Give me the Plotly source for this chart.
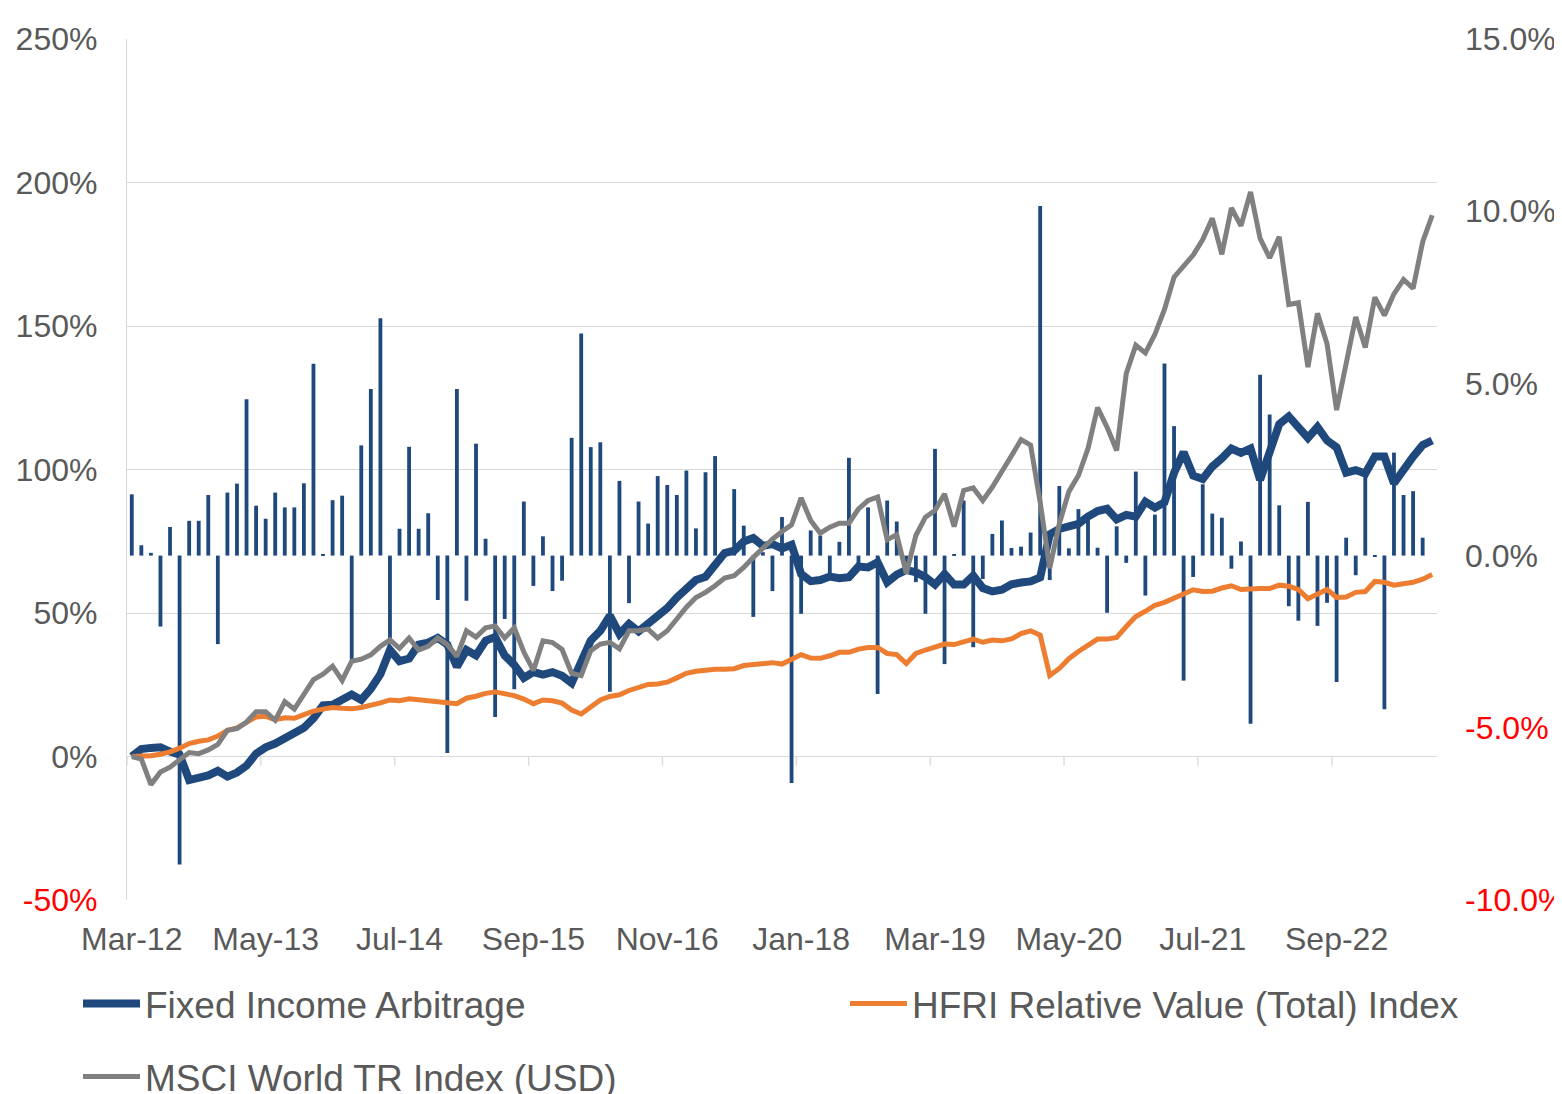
import pandas as pd
import plotly.graph_objects as go

# ---------------- data ----------------
months = pd.date_range("2012-03-01", periods=137, freq="MS").strftime("%b-%y").tolist()
tick_labels = months[::14]

# monthly return of Fixed Income Arbitrage (right axis, %)
fia_monthly = [1.78, 0.30, 0.08, -2.06, 0.83, -8.97, 1.01, 1.01, 1.76, -2.57,
               1.83, 2.09, 4.54, 1.45, 1.07, 1.83, 1.40, 1.40, 2.10, 5.57,
               0.02, 1.61, 1.74, -3.02, 3.20, 4.84, 6.89, -2.49, 0.78, 3.16,
               0.78, 1.23, -1.29, -5.73, 4.84, -1.31, 3.25, 0.49, -4.69, -1.84,
               -3.88, 1.57, -0.88, 0.56, -1.03, -0.73, 3.42, 6.45, 3.15, 3.29,
               -3.95, 2.17, -1.38, 1.57, 0.93, 2.31, 2.05, 1.76, 2.47, 0.79,
               2.42, 2.89, 0.10, 1.93, 0.87, -1.78, 0.10, -1.03, 1.12, -6.60,
               -1.69, 0.73, 0.58, -0.68, 0.40, 2.84, -0.34, 1.40, -4.02, 1.60,
               0.99, -0.30, -0.77, -1.69, 3.10, -3.15, 0.03, 1.60, -2.66, -0.68,
               0.63, 1.02, 0.22, 0.26, 0.67, 10.15, -0.71, 2.02, 0.21, 1.35,
               1.09, 0.23, -1.66, 0.85, -0.21, 2.44, -1.16, 1.19, 5.58, 3.76,
               -3.63, -0.62, 2.07, 1.22, 1.10, -0.38, 0.41, -4.88, 5.25, 4.10,
               1.46, -1.47, -1.89, 1.56, -2.04, -1.37, -3.67, 0.52, -0.57, 2.34,
               -0.04, -4.46, 2.99, 1.76, 1.87, 0.52, None]

# cumulative performance (left axis, %)
fia_cum = [0, 2.6, 3.0, 3.2, 1.7, 0.6, -8.2, -7.5, -6.6, -5.0,
           -7.0, -5.6, -3.2, 1.0, 3.2, 4.5, 6.6, 8.4, 10.0, 13.3,
           17.8, 18.0, 19.7, 21.6, 19.7, 23.6, 28.7, 37.1, 33.2, 34.1,
           39.0, 39.7, 41.3, 39.0, 31.3, 37.1, 35.2, 40.3, 41.6, 35.2,
           31.9, 27.4, 29.4, 28.5, 29.4, 28.1, 25.6, 32.8, 40.4, 43.8,
           49.1, 42.7, 46.2, 43.6, 46.2, 48.3, 51.7, 55.4, 58.3, 61.5,
           62.6, 66.5, 70.9, 71.7, 74.9, 76.1, 73.4, 74.0, 72.5, 73.8,
           63.6, 61.1, 61.5, 62.7, 62.1, 62.5, 66.2, 65.9, 67.7, 60.7,
           63.4, 65.0, 64.2, 62.5, 59.9, 63.6, 59.9, 59.9, 63.0, 58.7,
           57.5, 58.1, 60.0, 60.6, 61.0, 62.4, 77.4, 79.3, 80.5, 81.1,
           83.6, 85.5, 86.3, 82.6, 84.2, 83.6, 88.8, 86.7, 88.6, 98.8,
           106.0, 97.9, 96.7, 101.0, 103.9, 107.3, 105.8, 107.3, 96.4, 105.8,
           115.8, 118.5, 115.1, 111.0, 114.8, 110.1, 107.7, 98.9, 99.8, 98.6,
           104.5, 104.5, 95.2, 100.2, 104.5, 108.5, 110.1]

hfri_cum = [0, 0.0, 0.3, 0.8, 1.6, 2.9, 4.5, 5.3, 5.8, 7.1,
            9.1, 10.0, 12.0, 13.8, 14.0, 12.8, 13.5, 13.3, 14.6, 15.8,
            16.5, 17.1, 16.8, 16.6, 17.1, 17.8, 18.7, 19.7, 19.4, 20.1,
            19.7, 19.1, 19.1, 18.7, 18.4, 20.3, 21.0, 22.0, 22.5, 21.8,
            21.2, 20.0, 18.4, 19.7, 19.4, 18.6, 16.2, 14.8, 17.4, 19.7,
            20.9, 21.5, 23.0, 24.1, 25.1, 25.3, 25.9, 27.4, 29.0, 29.7,
            30.2, 30.4, 30.4, 30.6, 31.7, 32.0, 32.5, 32.7, 32.2, 33.8,
            35.5, 34.3, 34.2, 35.1, 36.3, 36.3, 37.4, 38.0, 38.0, 35.9,
            35.5, 32.4, 35.9, 37.1, 38.0, 39.2, 39.0, 40.1, 40.9, 39.8,
            40.6, 40.3, 41.0, 42.8, 43.8, 42.3, 28.2, 30.7, 34.1, 36.6,
            38.8, 40.9, 40.9, 41.5, 45.3, 48.8, 50.6, 52.7, 53.7, 55.2,
            56.8, 58.1, 57.5, 57.6, 58.7, 59.5, 58.2, 58.5, 58.5, 58.5,
            59.7, 59.3, 58.2, 55.0, 56.8, 58.2, 55.4, 55.6, 57.2, 57.5,
            61.0, 60.7, 59.7, 60.3, 60.7, 61.8, 63.4]

msci_cum = [0, -0.9, -9.8, -5.4, -3.7, -0.9, 1.4, 1.0, 2.3, 4.2,
            9.1, 9.7, 12.0, 15.6, 15.6, 12.6, 19.1, 16.5, 22.0, 26.8,
            28.7, 31.5, 26.5, 33.2, 33.9, 35.4, 38.4, 40.6, 37.7, 41.3,
            37.1, 38.4, 41.3, 39.0, 34.9, 43.8, 41.6, 44.8, 45.5, 41.3,
            44.8, 36.4, 30.0, 40.3, 39.7, 37.3, 29.0, 28.2, 36.9, 39.2,
            39.8, 37.5, 43.8, 43.8, 44.4, 41.3, 43.8, 47.9, 52.0, 55.4,
            57.2, 59.5, 62.2, 63.0, 65.9, 69.4, 72.8, 75.7, 78.4, 80.7,
            90.1, 82.2, 77.8, 79.9, 81.3, 81.3, 86.3, 89.2, 90.4, 75.5,
            77.3, 63.8, 77.0, 83.4, 85.7, 91.5, 80.1, 92.7, 93.6, 89.2,
            93.9, 99.1, 104.8, 110.4, 108.5, 88.6, 65.6, 81.1, 92.3, 97.9,
            107.3, 121.6, 114.7, 106.6, 133.4, 143.3, 140.6, 147.1, 155.8, 167.0,
            170.7, 174.7, 180.1, 187.5, 175.0, 191.1, 184.9, 196.7, 180.5, 173.7,
            181.1, 157.5, 158.1, 135.7, 154.4, 143.8, 120.7, 136.9, 153.1, 142.5,
            160.0, 153.7, 161.2, 166.2, 163.1, 179.3, 188.6]

left_ticks = [-50, 0, 50, 100, 150, 200, 250]
right_ticks = [-10, -5, 0, 5, 10, 15]

# ---------------- style ----------------
BLUE = "#1F497D"
ORANGE = "#ED7D31"
GRAY = "#808080"
TXT = "#595959"
RED = "#FF0000"
GRID = "#D9D9D9"
FONT = "Liberation Sans, Arial, sans-serif"


def fmt_left(v):
    s = f"{v}%"
    return f'<span style="color:{RED}">{s}</span>' if v < 0 else s


def fmt_right(v):
    s = f"{v:.1f}%"
    return f'<span style="color:{RED}">{s}</span>' if v < 0 else s


fig = go.Figure()
fig.add_trace(go.Bar(x=months, y=fia_monthly, yaxis="y", marker=dict(color=BLUE, line=dict(width=0)),
                     width=0.4, showlegend=False, name="Monthly return"))
fig.add_trace(go.Scatter(x=months, y=fia_cum, yaxis="y2", mode="lines", name="Fixed Income Arbitrage",
                         line=dict(color=BLUE, width=8), legend="legend"))
fig.add_trace(go.Scatter(x=months, y=hfri_cum, yaxis="y2", mode="lines", name="HFRI Relative Value (Total) Index",
                         line=dict(color=ORANGE, width=5), legend="legend2"))
fig.add_trace(go.Scatter(x=months, y=msci_cum, yaxis="y2", mode="lines", name="MSCI World TR Index (USD)",
                         line=dict(color=GRAY, width=5), legend="legend3"))

# small category tick marks hanging below the 0% line
shapes = []
for k in range(0, len(months), 14):
    shapes.append(dict(type="line", xref="x", yref="y2", x0=k - 0.5, x1=k - 0.5, y0=0, y1=-3.2,
                       line=dict(color=GRID, width=1.3)))

# page has an 8px body margin; figure sized so the plot lands where the reference has it
W, H = 1554, 1086
L, R, T, B = 119, 125, 31, 194
plot_w = W - L - R
plot_h = H - T - B
OFF = 8


def px_x(p):
    return (p - OFF - L) / plot_w


def px_y(p):
    return (T + plot_h - (p - OFF)) / plot_h


leg_common = dict(orientation="h", xanchor="left", yanchor="middle", bgcolor="rgba(0,0,0,0)",
                  font=dict(family=FONT, size=37, color=TXT), itemwidth=57, borderwidth=0)

fig.update_layout(
    width=W, height=H,
    margin=dict(l=L, r=R, t=T, b=B, autoexpand=False),
    paper_bgcolor="white", plot_bgcolor="white",
    font=dict(family=FONT, color=TXT),
    shapes=shapes,
    xaxis=dict(type="category", range=[-0.5, len(months) - 0.5], tickmode="array",
               tickvals=tick_labels, ticktext=tick_labels, showgrid=False, zeroline=False,
               showline=False, ticks="", ticklabelstandoff=17,
               tickfont=dict(family=FONT, size=32, color=TXT), anchor="y"),
    yaxis=dict(side="right", range=[-10, 15], tickmode="array", tickvals=right_ticks,
               ticktext=[fmt_right(v) for v in right_ticks], showgrid=False, zeroline=False,
               showline=False, ticks="", ticklabelstandoff=27,
               tickfont=dict(family=FONT, size=32, color=TXT)),
    yaxis2=dict(side="left", overlaying="y", anchor="x", range=[-50, 250], tickmode="array",
                tickvals=left_ticks, ticktext=[fmt_left(v) for v in left_ticks],
                showgrid=True, gridcolor=GRID, gridwidth=1.3, zeroline=False,
                showline=True, linecolor=GRID, linewidth=1.3, ticks="", ticklabelstandoff=22,
                tickfont=dict(family=FONT, size=32, color=TXT)),
    legend=dict(x=px_x(78), y=px_y(1004), **leg_common),
    legend2=dict(x=px_x(845), y=px_y(1004), **leg_common),
    legend3=dict(x=px_x(78), y=px_y(1077), **leg_common),
)

fig.write_html("out.html")
